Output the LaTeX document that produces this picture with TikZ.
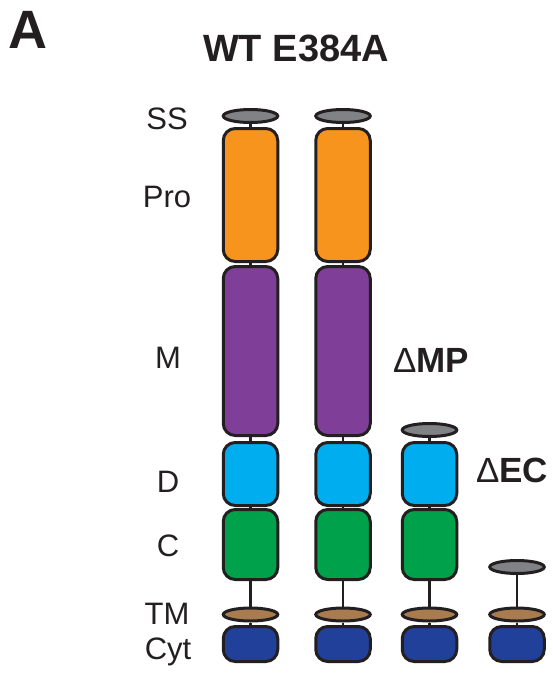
\documentclass[tikz,border=0pt]{standalone}
\usepackage{fontspec}
\setmainfont{Liberation Sans}
\usetikzlibrary{shapes.geometric}
\definecolor{edge}{HTML}{231F20}
\definecolor{ssgray}{HTML}{808285}
\definecolor{prorange}{HTML}{F7941D}
\definecolor{mpurple}{HTML}{7F3F98}
\definecolor{dcyan}{HTML}{00AEEF}
\definecolor{cgreen}{HTML}{00A14B}
\definecolor{tmbrown}{HTML}{A97C50}
\definecolor{cytblue}{HTML}{21409A}
\tikzset{
  protblock/.style={draw=edge, line width=3pt, rectangle, rounded corners=12pt,
    minimum width=54.5pt, inner sep=0pt},
  capsule/.style={draw=edge, line width=3pt, ellipse, minimum width=54.5pt,
    minimum height=13pt, inner sep=0pt},
  link/.style={draw=edge, line width=2.4pt},
  rowlabel/.style={font=\fontsize{31}{31}\selectfont, text=edge},
  headlabel/.style={font=\fontsize{38}{38}\selectfont\bfseries, text=edge},
  mutlabel/.style={font=\fontsize{35}{35}\selectfont, text=edge}
}
\begin{document}
\begin{tikzpicture}[x=1pt,y=-1pt]
\useasboundingbox (0,0) rectangle (553,675);

% panel letter and column headings
\node[font=\fontsize{54}{54}\selectfont\bfseries, text=edge] (panel) at (28,30) {A};
\node[headlabel] (heads) at (296,48) {WT E384A};

% domain names on the left
\node[rowlabel] (lss)  at (167,119) {SS};
\node[rowlabel] (lpro) at (167,197) {Pro};
\node[rowlabel] (lm)   at (168,358) {M};
\node[rowlabel] (ld)   at (168,482) {D};
\node[rowlabel] (lc)   at (168,546) {C};
\node[rowlabel] (ltm)  at (167,614) {TM};
\node[rowlabel] (lcyt) at (168,652) {Cyt};

% full-length constructs: WT and E384A
\foreach \c/\x in {w/250.5, e/343} {
  \node[capsule, fill=ssgray] (\c ss) at (\x,116) {};
  \node[protblock, fill=prorange, minimum height=133pt] (\c pro) at (\x,195) {};
  \node[protblock, fill=mpurple, minimum height=169pt] (\c m) at (\x,351) {};
  \node[protblock, fill=dcyan, minimum height=63pt] (\c d) at (\x,474) {};
  \node[protblock, fill=cgreen, minimum height=70pt] (\c c) at (\x,544.5) {};
  \node[capsule, fill=tmbrown] (\c tm) at (\x,614.5) {};
  \node[protblock, fill=cytblue, minimum height=35pt] (\c cyt) at (\x,644) {};
  \draw[link] (\c ss) -- (\c pro);
  \draw[link] (\c pro) -- (\c m);
  \draw[link] (\c m) -- (\c d);
  \draw[link] (\c d) -- (\c c);
  \draw[link] (\c c) -- (\c tm);
  \draw[link] (\c tm) -- (\c cyt);
}

% delta MP construct
\node[capsule, fill=ssgray] (pss) at (429.5,430) {};
\node[protblock, fill=dcyan, minimum height=63pt] (pd) at (429.5,474) {};
\node[protblock, fill=cgreen, minimum height=70pt] (pc) at (429.5,544.5) {};
\node[capsule, fill=tmbrown] (ptm) at (429.5,614.5) {};
\node[protblock, fill=cytblue, minimum height=35pt] (pcyt) at (429.5,644) {};
\draw[link] (pss) -- (pd);
\draw[link] (pd) -- (pc);
\draw[link] (pc) -- (ptm);
\draw[link] (ptm) -- (pcyt);

% delta EC construct
\node[capsule, fill=ssgray] (xss) at (517,567) {};
\node[capsule, fill=tmbrown] (xtm) at (517,614.5) {};
\node[protblock, fill=cytblue, minimum height=35pt] (xcyt) at (517,644) {};
\draw[link] (xss) -- (xtm);
\draw[link] (xtm) -- (xcyt);

% construct names
\node[mutlabel] (dmp) at (431,360) {Δ\textbf{MP}};
\node[mutlabel] (dec) at (512,470) {Δ\textbf{EC}};
\end{tikzpicture}
\end{document}
